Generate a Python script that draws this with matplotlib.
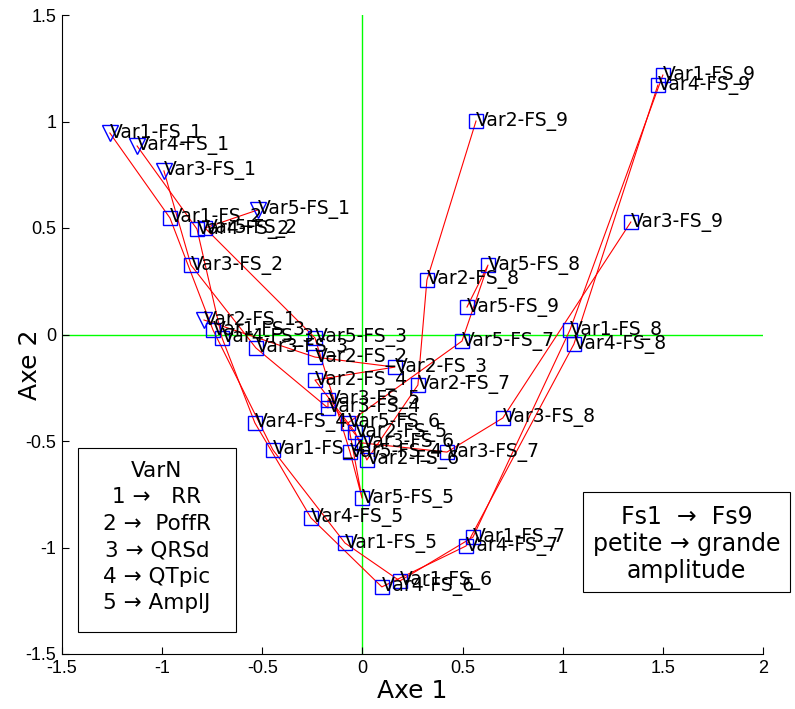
"""ACP trajectories of 5 ECG variables over 9 stimulation amplitudes."""

import matplotlib
matplotlib.use("Agg")
import matplotlib.pyplot as plt
from matplotlib.patches import Rectangle

# Coordinates on Axe 1 / Axe 2 for each variable, FS_1 .. FS_9
var_names = ["Var1", "Var2", "Var3", "Var4", "Var5"]
fs_labels = ["FS_1", "FS_2", "FS_3", "FS_4", "FS_5", "FS_6", "FS_7", "FS_8", "FS_9"]

var1_x = [-1.261, -0.961, -0.746, -0.447, -0.087, 0.187, 0.552, 1.036, 1.500]
var1_y = [0.946, 0.547, 0.021, -0.542, -0.979, -1.157, -0.951, 0.021, 1.218]

var2_x = [-0.791, -0.237, 0.162, -0.237, -0.037, 0.022, 0.277, 0.322, 0.567]
var2_y = [0.068, -0.106, -0.153, -0.214, -0.458, -0.589, -0.237, 0.256, 1.002]

var3_x = [-0.991, -0.856, -0.532, -0.172, -0.172, -0.002, 0.422, 0.701, 1.340]
var3_y = [0.768, 0.326, -0.063, -0.345, -0.307, -0.509, -0.552, -0.392, 0.528]

var4_x = [-1.125, -0.826, -0.701, -0.537, -0.257, 0.097, 0.517, 1.056, 1.475]
var4_y = [0.885, 0.495, -0.016, -0.415, -0.861, -1.185, -0.993, -0.045, 1.171]

var5_x = [-0.522, -0.786, -0.237, -0.062, -0.002, -0.072, 0.497, 0.627, 0.522]
var5_y = [0.585, 0.500, -0.016, -0.552, -0.768, -0.415, -0.031, 0.326, 0.129]

all_x = [var1_x, var2_x, var3_x, var4_x, var5_x]
all_y = [var1_y, var2_y, var3_y, var4_y, var5_y]

var_legend = "VarN\n1 \u2192   RR\n2 \u2192  PoffR\n3 \u2192 QRSd\n4 \u2192 QTpic\n5 \u2192 AmplJ"
fs_legend = "Fs1  \u2192  Fs9\npetite \u2192 grande\namplitude"

tick_font = ["Liberation Sans Narrow", "Liberation Sans", "DejaVu Sans"]

W, H = 795, 709
fig = plt.figure(figsize=(W / 100, H / 100), dpi=100)
ax = fig.add_axes([62 / W, 1 - 654 / H, (763 - 62) / W, (654 - 15) / H])

# Reference axes
ax.axvline(0, color="#00ff00", linewidth=1.0, zorder=1)
ax.axhline(0, color="#00ff00", linewidth=1.0, zorder=1)

for name, xs, ys in zip(var_names, all_x, all_y):
    ax.plot(xs, ys, color="red", linewidth=0.8, zorder=2)
    # first amplitude drawn with down triangles, the rest with squares
    ax.plot(xs[:1], ys[:1], linestyle="none", marker="v", markersize=12,
            markerfacecolor="none", markeredgecolor="blue", markeredgewidth=1.0, zorder=3)
    ax.plot(xs[1:], ys[1:], linestyle="none", marker="s", markersize=9.5,
            markerfacecolor="none", markeredgecolor="blue", markeredgewidth=1.0, zorder=3)
    for fs, x, y in zip(fs_labels, xs, ys):
        ax.text(x, y, f"{name}-{fs}", ha="left", va="center", fontsize=13.5,
                family="DejaVu Sans", zorder=4)

ax.set_xlim(-1.5, 2)
ax.set_ylim(-1.5, 1.5)
ax.set_xticks([-1.5, -1, -0.5, 0, 0.5, 1, 1.5, 2])
ax.set_yticks([-1.5, -1, -0.5, 0, 0.5, 1, 1.5])
ax.set_xticklabels(["-1.5", "-1", "-0.5", "0", "0.5", "1", "1.5", "2"])
ax.set_yticklabels(["-1.5", "-1", "-0.5", "0", "0.5", "1", "1.5"])
for lab in ax.get_xticklabels() + ax.get_yticklabels():
    lab.set_family(tick_font)
    lab.set_fontsize(13)
ax.tick_params(direction="in", length=5, width=0.8, pad=4)
ax.spines["top"].set_visible(False)
ax.spines["right"].set_visible(False)

ax.set_xlabel("Axe 1", fontsize=18, labelpad=2)
ax.set_ylabel("Axe 2", fontsize=18, va="center")
ax.yaxis.set_label_coords(-0.046, 0.452)

# Legend boxes (drawn in figure pixels)
def pbox(x0, y0, x1, y1):
    fig.patches.append(Rectangle((x0 / W, 1 - y1 / H), (x1 - x0) / W, (y1 - y0) / H,
                                 transform=fig.transFigure, facecolor="white",
                                 edgecolor="black", linewidth=0.8, zorder=5))

pbox(78, 448, 236, 632)
fig.text(157 / W, 1 - 537 / H, var_legend, ha="center", va="center", fontsize=15.5,
         linespacing=1.4, zorder=6)
pbox(583, 492, 790, 592)
fig.text(686.5 / W, 1 - 544 / H, fs_legend, ha="center", va="center", fontsize=17,
         linespacing=1.15, zorder=6)

fig.savefig("out.png", dpi=100, facecolor="white")
plt.close(fig)
